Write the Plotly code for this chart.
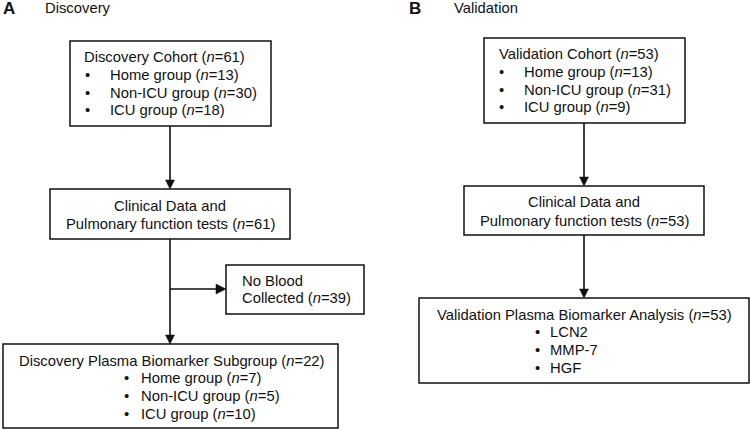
import plotly.graph_objects as go

# cohort counts
discovery_total = 61
discovery_groups = ["Home group", "Non-ICU group", "ICU group"]
discovery_n = [13, 30, 18]
no_blood_n = 39
subgroup_total = 22
subgroup_n = [7, 5, 10]

validation_total = 53
validation_groups = ["Home group", "Non-ICU group", "ICU group"]
validation_n = [13, 31, 9]
biomarkers = ["LCN2", "MMP-7", "HGF"]

FONT = "Liberation Sans, Arial, Helvetica, sans-serif"
FS = 14.8
INK = "#111111"

fig = go.Figure()
shapes = []
annos = []


def box(x0, y0, x1, y1):
    shapes.append(dict(type="rect", x0=x0, y0=y0, x1=x1, y1=y1,
                       line=dict(color=INK, width=1.5), fillcolor="white",
                       layer="below"))


def line(x0, y0, x1, y1):
    shapes.append(dict(type="line", x0=x0, y0=y0, x1=x1, y1=y1,
                       line=dict(color=INK, width=1.6)))


def arrow_down(x, y0, y1):
    line(x, y0, x, y1 - 8)
    shapes.append(dict(type="path",
                       path=f"M {x-4.5},{y1-9} L {x+4.5},{y1-9} L {x},{y1} Z",
                       fillcolor=INK, line=dict(color=INK, width=0.5)))


def arrow_right(x0, x1, y):
    line(x0, y, x1 - 8, y)
    shapes.append(dict(type="path",
                       path=f"M {x1-10},{y-5} L {x1-10},{y+5} L {x1},{y} Z",
                       fillcolor=INK, line=dict(color=INK, width=0.5)))


def text(x, y, s, anchor="left", size=FS, bold=False):
    if bold:
        s = f"<b>{s}</b>"
    annos.append(dict(x=x, y=y, text=s, showarrow=False, xanchor=anchor,
                      yanchor="middle", font=dict(family=FONT, size=size, color=INK)))


def nlab(v):
    return f"(<i>n</i>={v})"


# ---------- Panel A ----------
text(0.5, 8, "A", size=17, bold=True)
text(43, 8, "Discovery")

box(70, 41, 271, 126)
text(82, 57, f"Discovery Cohort {nlab(discovery_total)}")
for i, (g, n) in enumerate(zip(discovery_groups, discovery_n)):
    y = 75 + i * 17.7
    text(83, y, "•")
    text(108, y, f"{g} {nlab(n)}")

arrow_down(170, 126, 189)

box(50, 189, 290, 239)
text(170, 206, "Clinical Data and", anchor="center")
text(170, 224, f"Pulmonary function tests {nlab(discovery_total)}", anchor="center")

arrow_down(170, 239, 344)
arrow_right(170, 226, 289)

box(226, 265, 364, 314)
text(240, 281, "No Blood")
text(240, 298, f"Collected {nlab(no_blood_n)}")

box(3, 344, 338, 428)
text(17, 361, f"Discovery Plasma Biomarker Subgroup {nlab(subgroup_total)}")
for i, (g, n) in enumerate(zip(discovery_groups, subgroup_n)):
    y = 378 + i * 17.8
    text(122, y, "•")
    text(139, y, f"{g} {nlab(n)}")

# ---------- Panel B ----------
text(407, 8, "B", size=17, bold=True)
text(452, 8, "Validation")

box(484, 38, 685, 123)
text(497, 54, f"Validation Cohort {nlab(validation_total)}")
for i, (g, n) in enumerate(zip(validation_groups, validation_n)):
    y = 72 + i * 17.7
    text(497, y, "•")
    text(522, y, f"{g} {nlab(n)}")

arrow_down(584, 123, 186)

box(464, 186, 704, 235)
text(584, 202, "Clinical Data and", anchor="center")
text(584, 221, f"Pulmonary function tests {nlab(validation_total)}", anchor="center")

arrow_down(584, 235, 298)

box(419, 298, 749, 383)
text(584, 315, f"Validation Plasma Biomarker Analysis {nlab(validation_total)}", anchor="center")
for i, b in enumerate(biomarkers):
    y = 332 + i * 18
    text(533, y, "•")
    text(548, y, b)

fig.update_layout(
    width=750, height=430,
    margin=dict(l=0, r=0, t=0, b=0),
    paper_bgcolor="white", plot_bgcolor="white",
    xaxis=dict(range=[0, 750], visible=False, fixedrange=True),
    yaxis=dict(range=[430, 0], visible=False, fixedrange=True),
    shapes=shapes, annotations=annos, showlegend=False,
    hovermode=False,
)

# drop the default 8px body margin so the figure sits at the page corner
fig.write_html("out.html", config={"displayModeBar": False},
               post_script="document.body.style.margin='0';")
